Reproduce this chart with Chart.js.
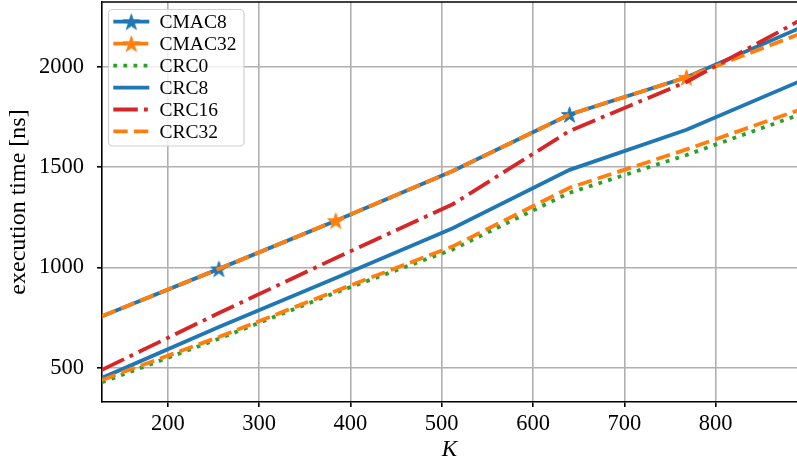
<!DOCTYPE html>
<html><head><meta charset="utf-8">
<script src="https://cdn.jsdelivr.net/npm/chart.js@4.4.0/dist/chart.umd.min.js"></script>
<style>html,body{margin:0;padding:0;background:#fff;} canvas{display:block}</style>
</head><body>
<canvas id="c" width="797" height="466"></canvas>
<script>
// ---- data ----
const K = [128, 256, 384, 512, 640, 768, 896];
const CMAC8  = [757, 993, 1233, 1480, 1762, 1947, 2200];
const CMAC32 = [757, 993, 1233, 1480, 1762, 1947, 2170];
const CRC0   = [428, 645, 875, 1090, 1372, 1560, 1768];
const CRC8   = [450, 704, 948, 1195, 1486, 1686, 1935];
const CRC16  = [490, 773, 1047, 1315, 1680, 1924, 2240];
const CRC32  = [440, 654, 883, 1105, 1397, 1588, 1792];
const CMAC8_MARKS  = [256, 640];
const CMAC32_MARKS = [384, 768];
const xTicks = [200, 300, 400, 500, 600, 700, 800];
const yTicks = [500, 1000, 1500, 2000];

const BLUE = '#1f77b4', ORANGE = '#ff7f0e', GREEN = '#2ca02c', RED = '#d62728';
const LW = 3.8;
const SERIF = '"Liberation Serif", "DejaVu Serif", serif';

function makeStar(color, R) {
  const c = document.createElement('canvas');
  const s = Math.ceil(2 * R + 2);
  c.width = s; c.height = s;
  const g = c.getContext('2d');
  const cx = s / 2, cy = s / 2 + R * 0.1;
  const r = R * 0.381966;
  g.beginPath();
  for (let i = 0; i < 10; i++) {
    const rad = (i % 2 === 0) ? R : r;
    const a = -Math.PI / 2 + i * Math.PI / 5;
    const px = cx + rad * Math.cos(a), py = cy + rad * Math.sin(a);
    if (i === 0) g.moveTo(px, py); else g.lineTo(px, py);
  }
  g.closePath();
  g.fillStyle = color; g.fill();
  g.lineJoin = 'miter'; g.strokeStyle = color; g.lineWidth = 1; g.stroke();
  return c;
}
const starBlue = makeStar(BLUE, 8.5);
const starOrange = makeStar(ORANGE, 8.5);

const pts = arr => K.map((k, i) => ({x: k, y: arr[i]}));
const marks = list => K.map(k => list.includes(k) ? 8 : 0);

const datasets = [
  {label: 'CMAC8', data: pts(CMAC8), borderColor: BLUE, backgroundColor: BLUE, borderWidth: LW, borderDash: [],
   pointStyle: starBlue, pointRadius: marks(CMAC8_MARKS), legendMarker: starBlue},
  {label: 'CMAC32', data: pts(CMAC32), borderColor: ORANGE, backgroundColor: ORANGE, borderWidth: LW, borderDash: [14.4, 6.2],
   pointStyle: starOrange, pointRadius: marks(CMAC32_MARKS), legendMarker: starOrange},
  {label: 'CRC0', data: pts(CRC0), borderColor: GREEN, backgroundColor: GREEN, borderWidth: LW, borderDash: [3.8, 6.3], pointRadius: 0},
  {label: 'CRC8', data: pts(CRC8), borderColor: BLUE, backgroundColor: BLUE, borderWidth: LW, borderDash: [], pointRadius: 0},
  {label: 'CRC16', data: pts(CRC16), borderColor: RED, backgroundColor: RED, borderWidth: LW, borderDash: [24.5, 6.2, 3.8, 6.2], pointRadius: 0},
  {label: 'CRC32', data: pts(CRC32), borderColor: ORANGE, backgroundColor: ORANGE, borderWidth: LW, borderDash: [14.4, 6.2], pointRadius: 0},
];
datasets.forEach((d, i) => { d.order = datasets.length - i; d.fill = false; d.tension = 0; d.pointHoverRadius = 0; d.pointBorderWidth = 0; });

const frameAndLegend = {
  id: 'frameAndLegend',
  afterDraw(chart) {
    const ctx = chart.ctx, a = chart.chartArea;
    ctx.save();
    // top spine
    ctx.strokeStyle = '#000'; ctx.lineWidth = 1.6; ctx.setLineDash([]);
    ctx.beginPath(); ctx.moveTo(a.left - 0.8, a.top); ctx.lineTo(a.right, a.top); ctx.stroke();
    // legend
    const x0 = 108.5, y0 = 9.5, w = 135.5, h = 136.5;
    ctx.beginPath(); ctx.roundRect(x0, y0, w, h, 4);
    ctx.fillStyle = 'rgba(255,255,255,0.8)'; ctx.fill();
    ctx.strokeStyle = '#d0d0d0'; ctx.lineWidth = 1.2; ctx.stroke();
    chart.data.datasets.forEach((ds, i) => {
      const y = 21.7 + i * 21.95;
      ctx.setLineDash(ds.borderDash || []);
      ctx.strokeStyle = ds.borderColor; ctx.lineWidth = ds.borderWidth; ctx.lineCap = 'butt';
      ctx.beginPath(); ctx.moveTo(113.3, y); ctx.lineTo(149.3, y); ctx.stroke();
      ctx.setLineDash([]);
      if (ds.legendMarker) ctx.drawImage(ds.legendMarker, 131.3 - ds.legendMarker.width / 2, y - ds.legendMarker.height / 2);
      ctx.fillStyle = '#000'; ctx.font = '19.5px ' + SERIF; ctx.textBaseline = 'middle'; ctx.textAlign = 'left';
      ctx.fillText(ds.label, 159.5, y + 1);
    });
    ctx.restore();
  }
};

new Chart(document.getElementById('c'), {
  type: 'line',
  data: {datasets},
  plugins: [frameAndLegend],
  options: {
    responsive: false, animation: false, devicePixelRatio: 1,
    layout: {padding: {top: 2, right: 0, bottom: 0, left: 0}},
    plugins: {legend: {display: false}, tooltip: {enabled: false}},
    scales: {
      x: {
        type: 'linear', min: 128, max: 889,
        afterBuildTicks: s => { s.ticks = xTicks.map(v => ({value: v})); },
        afterFit: s => { s.height = 64; s.paddingLeft = 0; s.paddingRight = 0; },
        ticks: {color: '#000', font: {family: SERIF, size: 22.5}, padding: 4, callback: v => String(v), maxRotation: 0, autoSkip: false},
        grid: {color: '#b0b0b0', lineWidth: 1.6, tickColor: '#000', tickLength: 5, tickWidth: 1.6},
        border: {color: '#000', width: 1.6},
        title: {display: true, text: 'K', color: '#000', font: {family: SERIF, size: 23, style: 'italic'}, padding: {top: 0, bottom: 2}}
      },
      y: {
        type: 'linear', min: 330, max: 2322,
        afterBuildTicks: s => { s.ticks = yTicks.map(v => ({value: v})); },
        afterFit: s => { s.width = 102; s.paddingTop = 0; s.paddingBottom = 0; },
        ticks: {color: '#000', font: {family: SERIF, size: 22.5}, padding: 13, callback: v => String(v), autoSkip: false},
        grid: {color: '#b0b0b0', lineWidth: 1.6, tickColor: '#000', tickLength: 5, tickWidth: 1.6},
        border: {color: '#000', width: 1.6},
        title: {display: true, text: 'execution time [ns]', color: '#000', font: {family: SERIF, size: 24}, padding: {top: 4, bottom: 0}}
      }
    }
  }
});
</script>
</body></html>
